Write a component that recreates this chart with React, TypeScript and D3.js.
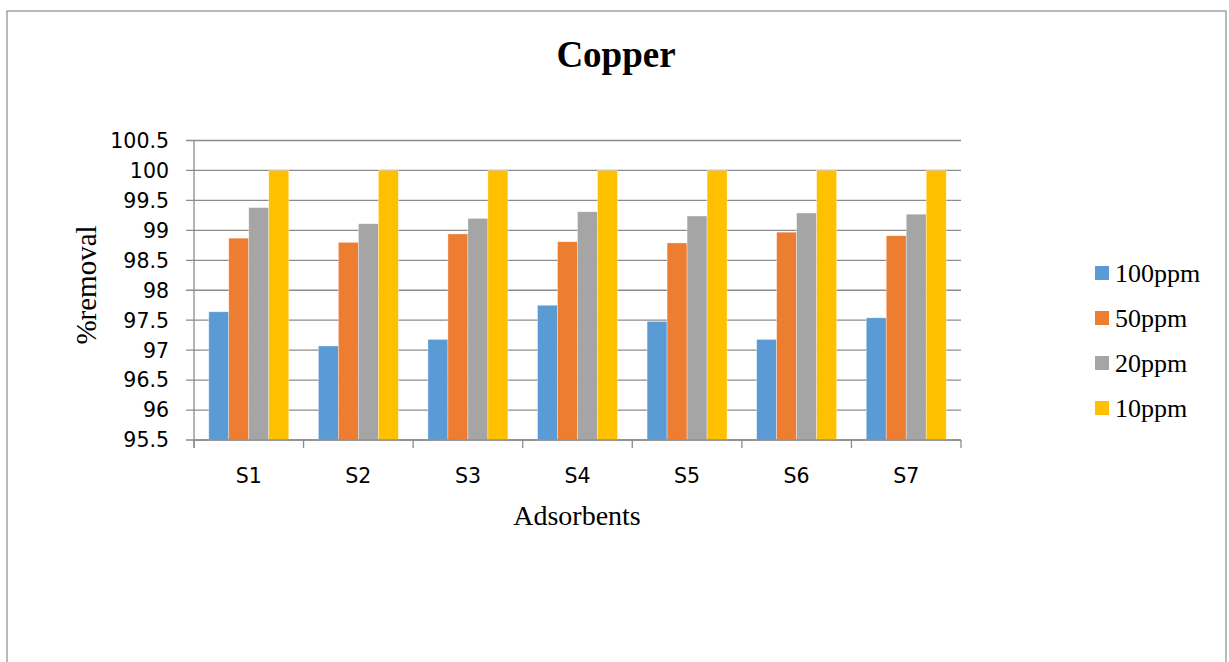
import React from "react";
import * as d3 from "d3";

// Adsorbents on the x axis
const categories = ["S1", "S2", "S3", "S4", "S5", "S6", "S7"];

// Series: initial copper concentration
const seriesNames = ["100ppm", "50ppm", "20ppm", "10ppm"];
const seriesColors = ["#5B9BD5", "#ED7D31", "#A5A5A5", "#FFC000"];

// % removal per adsorbent, one array per series
const removal100 = [97.64, 97.07, 97.18, 97.75, 97.48, 97.18, 97.54];
const removal50 = [98.87, 98.8, 98.94, 98.81, 98.79, 98.97, 98.91];
const removal20 = [99.38, 99.11, 99.2, 99.31, 99.24, 99.29, 99.27];
const removal10 = [100, 100, 100, 100, 100, 100, 100];

const yTicks = [95.5, 96, 96.5, 97, 97.5, 98, 98.5, 99, 99.5, 100, 100.5];

const seriesValues = [removal100, removal50, removal20, removal10];

export default function App() {
  const W = 1229;
  const H = 662;
  const plot = { left: 194, right: 961, top: 140.5, bottom: 440 };

  const x = d3
    .scaleBand<string>()
    .domain(categories)
    .range([plot.left, plot.right])
    .paddingInner(0)
    .paddingOuter(0);

  const groupWidth = x.bandwidth() * 0.73;
  const xInner = d3
    .scaleBand<string>()
    .domain(seriesNames)
    .range([0, groupWidth])
    .padding(0);

  const y = d3.scaleLinear().domain([95.5, 100.5]).range([plot.bottom, plot.top]);

  const sans = "'DejaVu Sans', sans-serif";
  const serif = "'Liberation Serif', 'Times New Roman', serif";
  const grid = "#8C8C8C";

  return (
    <svg
      width={W}
      height={H}
      style={{ position: "fixed", left: 0, top: 0, background: "#fff" }}
    >
      {/* outer frame */}
      <rect x={7} y={11} width={1219} height={700} fill="none" stroke="#8A8A8A" strokeWidth={1.2} />

      {/* title */}
      <text x={616} y={67} textAnchor="middle" fontFamily={serif} fontWeight="bold" fontSize={37} fill="#000">
        Copper
      </text>

      {/* horizontal gridlines */}
      {yTicks.map((t) => (
        <line
          key={"g" + t}
          x1={plot.left - 8}
          x2={plot.right}
          y1={y(t)}
          y2={y(t)}
          stroke={grid}
          strokeWidth={1.3}
        />
      ))}

      {/* y axis line */}
      <line x1={plot.left} x2={plot.left} y1={plot.top} y2={plot.bottom + 8} stroke={grid} strokeWidth={1.3} />

      {/* y tick labels */}
      {yTicks.map((t) => (
        <text
          key={"yl" + t}
          x={169}
          y={y(t)}
          dy="0.36em"
          textAnchor="end"
          fontFamily={sans}
          fontSize={20.5}
          fill="#000"
        >
          {t}
        </text>
      ))}

      {/* bars */}
      {categories.map((c, i) => {
        const gx = (x(c) as number) + (x.bandwidth() - groupWidth) / 2;
        return (
          <g key={c}>
            {seriesNames.map((s, j) => {
              const v = seriesValues[j][i];
              return (
                <rect
                  key={s}
                  x={gx + (xInner(s) as number)}
                  y={y(v)}
                  width={xInner.bandwidth()}
                  height={plot.bottom - y(v)}
                  fill={seriesColors[j]}
                  stroke="#ffffff"
                  strokeOpacity={0.6}
                  strokeWidth={0.6}
                />
              );
            })}
          </g>
        );
      })}

      {/* x axis line and category ticks */}
      <line x1={plot.left} x2={plot.right} y1={plot.bottom} y2={plot.bottom} stroke={grid} strokeWidth={1.5} />
      {d3.range(categories.length + 1).map((i) => {
        const tx = plot.left + i * x.step();
        return (
          <line key={"t" + i} x1={tx} x2={tx} y1={plot.bottom} y2={plot.bottom + 8} stroke={grid} strokeWidth={1.3} />
        );
      })}

      {/* category labels */}
      {categories.map((c) => (
        <text
          key={"xl" + c}
          x={(x(c) as number) + x.bandwidth() / 2}
          y={483}
          textAnchor="middle"
          fontFamily={sans}
          fontSize={20.5}
          fill="#000"
        >
          {c}
        </text>
      ))}

      {/* axis titles */}
      <text x={577} y={525} textAnchor="middle" fontFamily={serif} fontSize={28} fill="#000">
        Adsorbents
      </text>
      <text
        transform={`translate(96,285) rotate(-90)`}
        textAnchor="middle"
        fontFamily={serif}
        fontSize={29}
        fill="#000"
      >
        %removal
      </text>

      {/* legend */}
      {seriesNames.map((s, j) => {
        const cy = 273 + j * 45;
        return (
          <g key={"lg" + s}>
            <rect x={1095} y={cy - 7} width={14} height={14} fill={seriesColors[j]} />
            <text x={1115} y={cy} dy="0.34em" fontFamily={serif} fontSize={26} fill="#000">
              {s}
            </text>
          </g>
        );
      })}
    </svg>
  );
}
